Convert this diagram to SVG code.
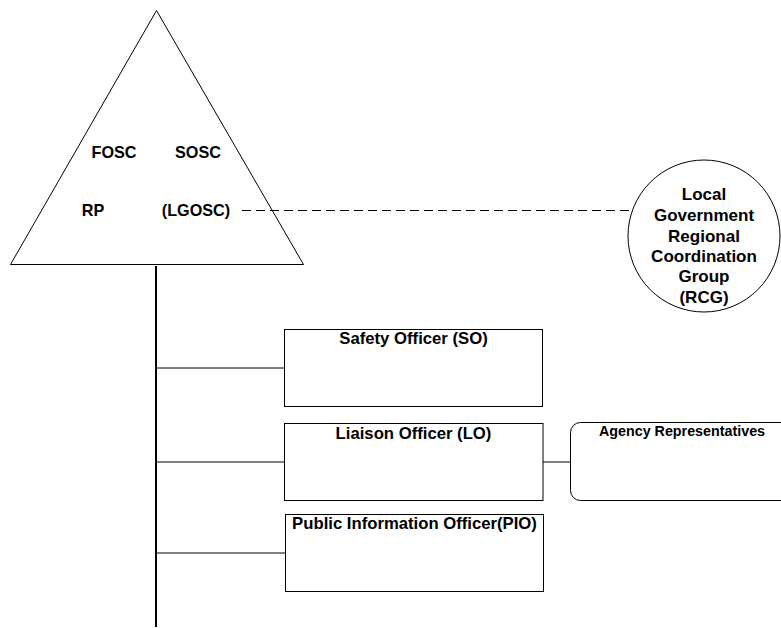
<svg xmlns="http://www.w3.org/2000/svg" width="781" height="628" viewBox="0 0 781 628">
<style>
.t{font-family:"Liberation Sans",Arial,sans-serif;font-weight:bold;fill:#000}
.m{text-anchor:middle}
.s{fill:#fff;stroke:#000;stroke-width:1}
.c{fill:none;stroke:#000;stroke-width:1}
</style>
<rect width="781" height="628" fill="#fff"/>
<g id="connectors">
<line class="c" x1="156" y1="266" x2="156" y2="627" style="stroke-width:2"/>
<line class="c" x1="156" y1="368" x2="284" y2="368"/>
<line class="c" x1="156" y1="462" x2="284" y2="462"/>
<line class="c" x1="156" y1="553" x2="285" y2="553"/>
<line class="c" x1="543" y1="462" x2="570" y2="462"/>
<line class="c" x1="242" y1="210.5" x2="632" y2="210.5" stroke-dasharray="9,5"/>
</g>
<g id="command">
<polygon class="s" points="156.5,10.5 10.5,264.5 303.5,264.5" style="fill:none"/>
<text class="t m" x="114" y="157.5" font-size="16.2">FOSC</text>
<text class="t m" x="198" y="157.5" font-size="16.2">SOSC</text>
<text class="t m" x="93" y="216" font-size="16.2">RP</text>
<text class="t m" x="196" y="216" font-size="16.2">(LGOSC)</text>
</g>
<g id="rcg">
<circle class="s" cx="704" cy="236" r="76" style="fill:none"/>
<text class="t m" x="704" y="200" font-size="17">Local</text>
<text class="t m" x="704" y="221" font-size="17">Government</text>
<text class="t m" x="704" y="241.5" font-size="17">Regional</text>
<text class="t m" x="704" y="262" font-size="17">Coordination</text>
<text class="t m" x="704" y="282" font-size="17">Group</text>
<text class="t m" x="704" y="302.5" font-size="17">(RCG)</text>
</g>
<g id="so">
<rect class="s" x="284.5" y="329.5" width="258" height="77"/>
<text class="t m" x="413.5" y="344" font-size="16.7">Safety Officer (SO)</text>
</g>
<g id="lo">
<rect class="s" x="284.5" y="423.5" width="258.5" height="77"/>
<text class="t m" x="413.5" y="438.5" font-size="16.7">Liaison Officer (LO)</text>
</g>
<g id="pio">
<rect class="s" x="285.5" y="514.5" width="258" height="77"/>
<text class="t m" x="414.5" y="529" font-size="16.7">Public Information Officer(PIO)</text>
</g>
<g id="agency">
<rect class="s" x="570.5" y="422.5" width="230" height="78" rx="10" ry="10"/>
<text class="t m" x="682" y="435.5" font-size="14.3">Agency Representatives</text>
</g>
</svg>
